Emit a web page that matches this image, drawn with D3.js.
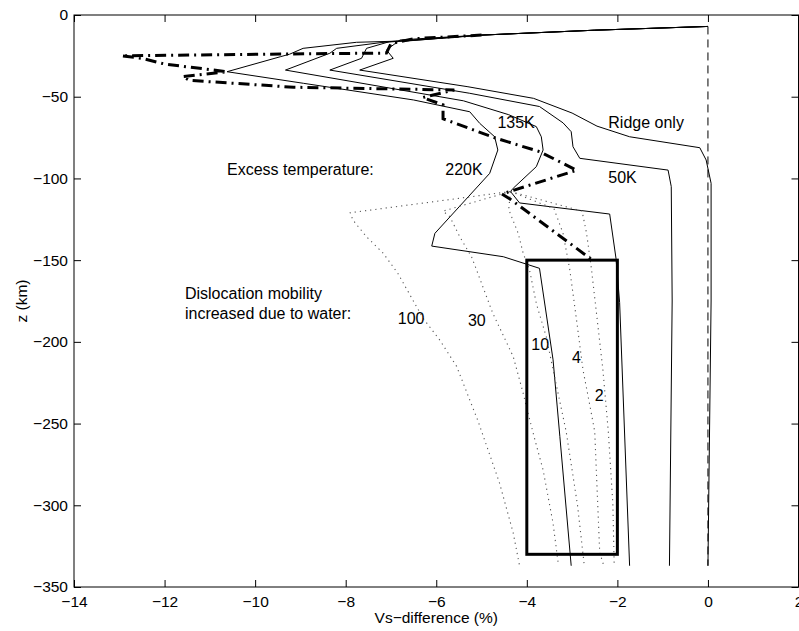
<!DOCTYPE html>
<html>
<head>
<meta charset="utf-8">
<script src="https://cdn.jsdelivr.net/npm/d3@7"></script>
<style>
  body { margin: 0; background: #fff; }
  svg text { font-family: "Liberation Sans", Arial, Helvetica, sans-serif; fill: #000; }
  .axis path { display: none; }
  .axis line { stroke: #000; }
</style>
</head>
<body>
<div id="chart"></div>
<script>
// Vs-difference profiles against depth; each profile is a list of [vs%, z km]

const xTicks = [-14, -12, -10, -8, -6, -4, -2, 0, 2];
const yTicks = [-350, -300, -250, -200, -150, -100, -50, 0];

// reference (dashed) line at zero
const refLine = [[0, -7], [0, -337]];

// excess-temperature profiles (solid)
const ridgeOnly = [[0, -7], [-2.5, -9.3], [-5.0, -12.3], [-6.2, -14.2], [-6.8, -15.3], [-7.1, -21.4],
  [-6.95, -26.5], [-7.69, -33.7], [-5.3, -43.9], [-3.85, -51], [-3.0, -60], [-2.45, -68],
  [-1.73, -74.5], [-0.18, -81.2], [-0.04, -88.7], [0.07, -103], [0.07, -175], [0, -337]];
const k50 = [[0, -7], [-2.5, -9.3], [-5.0, -12.3], [-6.3, -14.8], [-7.03, -16.3], [-7.54, -20.4],
  [-7.65, -26.5], [-8.35, -33.7], [-5.26, -47.9], [-3.72, -56], [-3.2, -66], [-3.02, -71.4],
  [-2.98, -80.6], [-2.83, -87.7], [-0.88, -94.9], [-0.81, -105], [-0.79, -175], [-0.85, -337]];
const k135 = [[0, -7], [-2.5, -9.3], [-5.0, -12.3], [-6.4, -15.3], [-7.2, -16.8], [-8.2, -20.4],
  [-8.35, -23.4], [-9.33, -33.7], [-5.4, -52.5], [-4.4, -61], [-3.79, -68.3], [-3.68, -74.5],
  [-3.64, -82.6], [-3.79, -92.8], [-4.3, -106], [-4.36, -108], [-4.16, -115], [-2.17, -121.8],
  [-2.03, -149], [-1.95, -176], [-1.73, -337]];
const k220 = [[0, -7], [-2.5, -9.3], [-5.0, -12.3], [-6.6, -15.8], [-7.76, -16.7], [-8.94, -20.4],
  [-9.24, -24], [-9.44, -25.5], [-10.62, -34.7], [-8.93, -41.8], [-6.5, -52], [-5.26, -59.2],
  [-5.04, -66.3], [-4.71, -74.5], [-4.64, -82.6], [-4.82, -96.9], [-6.03, -133.6], [-6.1, -141.4],
  [-4.52, -147.9], [-3.72, -155], [-3.42, -211], [-3.27, -258], [-3.02, -337]];

// thick dash-dot profile
const dashDot = [[-5.0, -12.3], [-6.5, -14.5], [-7.0, -17.5], [-7.1, -23.3],
  [-9.2, -23.8], [-12.95, -25], [-12.5, -26.5], [-12.0, -30], [-10.62, -34.7], [-11.6, -37.7],
  [-11.45, -40], [-9.15, -44.2], [-5.6, -45.9], [-6.3, -50.5], [-5.85, -55], [-5.85, -63.5],
  [-4.67, -75.5], [-3.72, -83.6], [-2.9, -95], [-4.55, -109.5], [-4.35, -113], [-2.55, -150]];

// dislocation mobility increased due to water (dotted)
const wet100 = [[-4.36, -108], [-7.9, -121], [-7.84, -125.5], [-7.54, -135.7], [-7.17, -145.8],
  [-6.85, -158], [-6.29, -185.6], [-5.92, -199], [-5.55, -215], [-5.07, -249], [-4.6, -286.6],
  [-4.3, -317], [-4.16, -337]];
const wet30 = [[-4.36, -108], [-5.85, -120], [-5.7, -123.4], [-5.48, -135.7], [-5.22, -148],
  [-5.11, -156], [-4.75, -182.6], [-4.3, -209], [-4.08, -231.5], [-3.97, -244], [-3.82, -260],
  [-3.64, -278.5], [-3.42, -311], [-3.3, -337]];
const wet10 = [[-4.36, -108], [-4.4, -119], [-4.19, -133.6], [-4.08, -145.8], [-3.94, -156],
  [-3.79, -176.5], [-3.57, -197], [-3.42, -217], [-3.13, -255], [-2.88, -300], [-2.73, -337]];
const wet4 = [[-4.36, -108], [-3.4, -118.5], [-3.2, -133.6], [-3.05, -156], [-2.9, -187],
  [-2.76, -217], [-2.6, -240], [-2.5, -255], [-2.39, -329], [-2.3, -337]];
const wet2 = [[-4.36, -108], [-2.78, -120], [-2.68, -133.6], [-2.57, -156], [-2.32, -217],
  [-2.2, -255], [-2.1, -299], [-2.07, -337]];

// highlighted box
const boxX = [-4, -2];
const boxZ = [-150, -330];

// text annotations: [label, x, z]
const labels = [
  ['Ridge only', -2.2, -69],
  ['135K', -4.65, -69],
  ['220K', -5.8, -98],
  ['50K', -2.2, -103],
  ['Excess temperature:', -10.62, -98],
  ['Dislocation mobility', -11.55, -174],
  ['increased due to water:', -11.55, -186],
  ['100', -6.85, -189],
  ['30', -5.3, -190.5],
  ['10', -3.9, -205],
  ['4', -3.0, -213],
  ['2', -2.5, -236]
];

const W = 799, H = 631;
const m = { left: 74, right: 0.5, top: 15, bottom: 44 };

const svg = d3.select('#chart').append('svg')
  .attr('width', W).attr('height', H);

const x = d3.scaleLinear().domain([-14, 2]).range([m.left, W - m.right]);
const y = d3.scaleLinear().domain([-350, 0]).range([H - m.bottom, m.top]);

const line = d3.line().x(d => x(d[0])).y(d => y(d[1]));

// axes, ticks pointing inward
svg.append('g').attr('class', 'axis')
  .attr('transform', `translate(0,${y(-350)})`)
  .call(d3.axisBottom(x).tickValues(xTicks).tickSizeInner(-7).tickSizeOuter(0).tickPadding(9))
  .selectAll('text').attr('font-size', 15.5);
svg.append('g').attr('class', 'axis')
  .attr('transform', `translate(${x(-14)},0)`)
  .call(d3.axisLeft(y).tickValues(yTicks).tickSizeInner(-7).tickSizeOuter(0).tickPadding(6))
  .selectAll('text').attr('font-size', 15.5);
svg.append('g').attr('class', 'axis')
  .attr('transform', `translate(0,${y(0)})`)
  .call(d3.axisTop(x).tickValues(xTicks).tickSizeInner(-7).tickSizeOuter(0).tickFormat(''));
svg.append('g').attr('class', 'axis')
  .attr('transform', `translate(${x(2)},0)`)
  .call(d3.axisRight(y).tickValues(yTicks).tickSizeInner(-7).tickSizeOuter(0).tickFormat(''));

// plot frame
svg.append('rect')
  .attr('x', x(-14)).attr('y', y(0))
  .attr('width', x(2) - x(-14)).attr('height', y(-350) - y(0))
  .attr('fill', 'none').attr('stroke', '#000').attr('stroke-width', 1);

// curves
const g = svg.append('g').attr('fill', 'none');

g.append('path').attr('d', line(refLine))
  .attr('stroke', '#000').attr('stroke-width', 1).attr('stroke-dasharray', '8,5');

[ridgeOnly, k50, k135, k220].forEach(s => {
  g.append('path').attr('d', line(s))
    .attr('stroke', '#000').attr('stroke-width', 1);
});

[wet100, wet30, wet10, wet4, wet2].forEach(s => {
  g.append('path').attr('d', line(s))
    .attr('stroke', '#555').attr('stroke-width', 1.1).attr('stroke-dasharray', '1.2,4');
});

g.append('path').attr('d', line(dashDot))
  .attr('stroke', '#000').attr('stroke-width', 3)
  .attr('stroke-dasharray', '11,5,2,5');

// box
g.append('rect')
  .attr('x', x(boxX[0])).attr('y', y(boxZ[0]))
  .attr('width', x(boxX[1]) - x(boxX[0])).attr('height', y(boxZ[1]) - y(boxZ[0]))
  .attr('stroke', '#000').attr('stroke-width', 3);

// annotations
svg.append('g').selectAll('text')
  .data(labels)
  .join('text')
  .attr('x', d => x(d[1]))
  .attr('y', d => y(d[2]))
  .attr('font-size', 16)
  .text(d => d[0]);

// axis titles
svg.append('text')
  .attr('x', (x(-14) + x(2)) / 2).attr('y', 623)
  .attr('text-anchor', 'middle').attr('font-size', 15.5)
  .text('Vs\u2212difference (%)');
svg.append('text')
  .attr('transform', `translate(27,${(y(0) + y(-350)) / 2}) rotate(-90)`)
  .attr('text-anchor', 'middle').attr('font-size', 15.5)
  .text('z (km)');
</script>
</body>
</html>
